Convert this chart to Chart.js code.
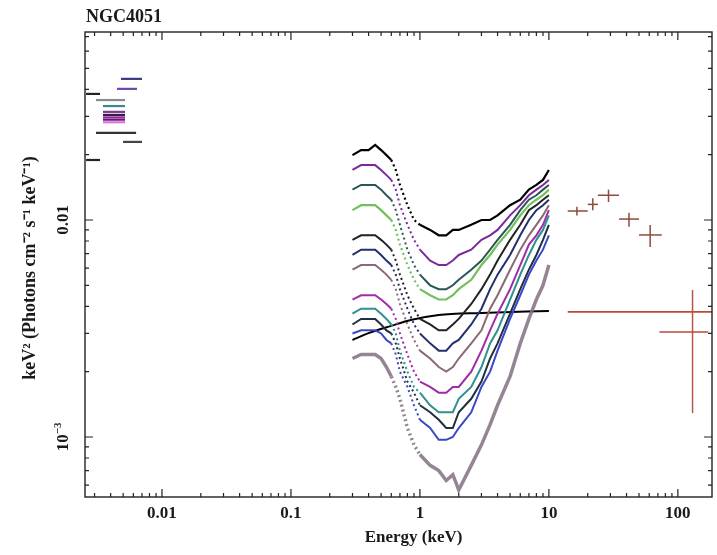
<!DOCTYPE html>
<html>
<head>
<meta charset="utf-8">
<script src="https://cdn.jsdelivr.net/npm/chart.js@4.4.0/dist/chart.umd.min.js"></script>
<style>
  html, body { margin: 0; padding: 0; background: #fff; }
  #wrap { width: 717px; height: 555px; }
</style>
</head>
<body>
<div id="wrap"><canvas id="spectrumChart" width="717" height="555"></canvas></div>
<script>
// X-ray spectra (keV, keV^2 Photons cm^-2 s^-1 keV^-1)
const energies = [0.3, 0.35, 0.4, 0.45, 0.5, 0.55, 0.6, 0.65, 0.7, 0.8, 0.9, 1.0, 1.2, 1.4, 1.6, 1.8, 2.0, 2.5, 3.0, 3.5, 4.0, 5.0, 6.0, 7.0, 8.0, 9.0, 10.0];

const spec1 = [0.0199, 0.0210, 0.0210, 0.0222, 0.0210, 0.0199, 0.0189, 0.0170, 0.0145, 0.0117, 0.0100, 0.0095, 0.0090, 0.0085, 0.0085, 0.0090, 0.0090, 0.0095, 0.0100, 0.0100, 0.0105, 0.0117, 0.0124, 0.0138, 0.0145, 0.0153, 0.0170];
const spec2 = [0.0170, 0.0179, 0.0179, 0.0179, 0.0170, 0.0161, 0.0153, 0.0138, 0.0117, 0.0095, 0.0081, 0.0073, 0.0065, 0.0062, 0.0062, 0.0065, 0.0069, 0.0073, 0.0081, 0.0085, 0.0090, 0.0105, 0.0117, 0.0130, 0.0138, 0.0145, 0.0153];
const spec3 = [0.0138, 0.0145, 0.0145, 0.0145, 0.0138, 0.0130, 0.0124, 0.0111, 0.0095, 0.0073, 0.0062, 0.0056, 0.0050, 0.0048, 0.0048, 0.0050, 0.0053, 0.0059, 0.0065, 0.0073, 0.0081, 0.0095, 0.0111, 0.0124, 0.0130, 0.0138, 0.0145];
const spec4 = [0.0111, 0.0117, 0.0117, 0.0117, 0.0111, 0.0105, 0.0100, 0.0090, 0.0077, 0.0062, 0.0053, 0.0048, 0.0045, 0.0043, 0.0043, 0.0045, 0.0048, 0.0053, 0.0062, 0.0069, 0.0077, 0.0090, 0.0105, 0.0117, 0.0124, 0.0130, 0.0138];
const spec5 = [0.0081, 0.0085, 0.0085, 0.0085, 0.0081, 0.0077, 0.0073, 0.0065, 0.0056, 0.0045, 0.0039, 0.0035, 0.0033, 0.0031, 0.0031, 0.0033, 0.0035, 0.0041, 0.0048, 0.0056, 0.0065, 0.0081, 0.0095, 0.0111, 0.0117, 0.0124, 0.0130];
const spec6 = [0.0069, 0.0073, 0.0073, 0.0073, 0.0069, 0.0065, 0.0062, 0.0056, 0.0048, 0.0039, 0.0033, 0.0030, 0.0027, 0.0025, 0.0025, 0.0027, 0.0028, 0.0033, 0.0039, 0.0048, 0.0056, 0.0069, 0.0085, 0.0100, 0.0111, 0.0117, 0.0124];
const spec7 = [0.0059, 0.0062, 0.0062, 0.0062, 0.0059, 0.0056, 0.0053, 0.0048, 0.0041, 0.0033, 0.0028, 0.0025, 0.0023, 0.0021, 0.0020, 0.0021, 0.0023, 0.0027, 0.0031, 0.0039, 0.0045, 0.0059, 0.0073, 0.0085, 0.0095, 0.0105, 0.0117];
const spec8 = [0.0043, 0.0045, 0.0045, 0.0045, 0.0043, 0.0041, 0.0039, 0.0035, 0.0030, 0.0024, 0.0020, 0.0018, 0.0017, 0.0016, 0.0016, 0.0017, 0.0017, 0.0020, 0.0025, 0.0031, 0.0037, 0.0048, 0.0062, 0.0077, 0.0085, 0.0095, 0.0111];
const spec9 = [0.0037, 0.0039, 0.0039, 0.0039, 0.0037, 0.0035, 0.0033, 0.0030, 0.0025, 0.0020, 0.0017, 0.0016, 0.0014, 0.0013, 0.0013, 0.0013, 0.0015, 0.0017, 0.0021, 0.0027, 0.0031, 0.0043, 0.0056, 0.0069, 0.0081, 0.0090, 0.0105];
const spec10 = [0.0033, 0.0035, 0.0035, 0.0035, 0.0033, 0.0031, 0.0030, 0.0027, 0.0023, 0.0018, 0.0016, 0.0014, 0.0013, 0.0012, 0.0011, 0.0011, 0.0013, 0.0015, 0.0018, 0.0023, 0.0027, 0.0037, 0.0048, 0.0059, 0.0069, 0.0081, 0.0095];
const spec11 = [0.0030, 0.0031, 0.0031, 0.0031, 0.0030, 0.0028, 0.0027, 0.0024, 0.0020, 0.0017, 0.0014, 0.0012, 0.0011, 0.00097, 0.00097, 0.0010, 0.0011, 0.0013, 0.0017, 0.0020, 0.0025, 0.0035, 0.0045, 0.0056, 0.0065, 0.0073, 0.0085];
const spec12 = [0.0023, 0.0024, 0.0024, 0.0024, 0.0023, 0.0021, 0.0019, 0.0017, 0.0015, 0.0011, 0.00092, 0.00083, 0.00074, 0.00070, 0.00063, 0.00067, 0.00057, 0.00074, 0.00092, 0.00114, 0.0014, 0.0019, 0.0027, 0.0035, 0.0043, 0.0050, 0.0062];

const spectra = [spec12, spec11, spec10, spec9, spec8, spec7, spec6, spec5, spec4, spec3, spec2, spec1];
const spectrumColors = ['rgba(130,110,128,0.85)', '#3a48c8', '#1f3040', '#2f9090', '#a32aa8', '#8a6a74', '#23306e', '#222222', '#72c05c', '#2b5656', '#7a2a9a', '#000000'];
const spectrumWidths = [3.5, 2, 2, 2, 2, 2, 2, 2, 2.2, 2, 2, 2.2];

// optical/UV monitor points: energy band and flux
const uvLow = [0.00481, 0.00448, 0.00258, 0.00308, 0.00349, 0.00349, 0.00349, 0.00349, 0.00349, 0.00349, 0.00308, 0.00499, 0.00258];
const uvHigh = [0.00700, 0.00640, 0.00331, 0.00517, 0.00517, 0.00517, 0.00517, 0.00517, 0.00517, 0.00517, 0.00630, 0.00700, 0.00331];
const uvFlux = [0.0447, 0.0402, 0.0381, 0.0357, 0.0335, 0.0315, 0.0305, 0.0297, 0.0290, 0.0282, 0.0252, 0.0229, 0.0189];
const uvColors = ['#3a3a80', '#6a4aa8', '#222222', '#8a8a8a', '#3a8a8a', '#7a3a9a', '#3a1a4a', '#9a2aa0', '#6a1a7a', '#d77ad7', '#333333', '#444444', '#222222'];

// model continuum
const modelEnergies = [0.3, 0.4, 0.6, 0.85, 1.4, 3.0, 10.0];
const modelFlux = [0.00280, 0.00301, 0.00325, 0.00346, 0.00365, 0.00373, 0.00381];

// hard X-ray band
const hardLineEnergies = [14, 195];
const hardLineFlux = [0.00377, 0.00377];
const batLow = [14, 20, 24, 35, 50, 72];
const batHigh = [20, 24, 35, 50, 75, 172];
const batCenter = [16.5, 21.9, 29, 41.8, 61, 130];
const batFlux = [0.0110, 0.0118, 0.0130, 0.0101, 0.00853, 0.00305];
const batErrLow = [0.0105, 0.0111, 0.0121, 0.0093, 0.00751, 0.00129];
const batErrHigh = [0.0115, 0.0126, 0.0138, 0.0108, 0.00948, 0.00476];

const serif = '"Liberation Serif", "Times New Roman", serif';

const datasets = [];

spectra.forEach((spec, i) => {
    datasets.push({
        label: 'spectrum ' + (spectra.length - i),
        data: energies.map((e, j) => ({ x: e, y: spec[j] })),
        borderColor: spectrumColors[i],
        borderWidth: spectrumWidths[i],
        pointRadius: 0,
        tension: 0,
        segment: {
            borderDash: ctx => (ctx.p0.parsed.x >= 0.6 && ctx.p1.parsed.x <= 1.0) ? [2, 3] : undefined
        }
    });
});

datasets.push({
    label: 'model',
    data: modelEnergies.map((e, j) => ({ x: e, y: modelFlux[j] })),
    borderColor: '#000',
    borderWidth: 2,
    pointRadius: 0,
    cubicInterpolationMode: 'monotone'
});

uvFlux.forEach((f, i) => {
    datasets.push({
        label: 'uv ' + i,
        data: [{ x: uvLow[i], y: f }, { x: uvHigh[i], y: f }],
        borderColor: uvColors[i],
        borderWidth: 2.2,
        pointRadius: 0
    });
});

datasets.push({
    label: 'hard band',
    data: hardLineEnergies.map((e, j) => ({ x: e, y: hardLineFlux[j] })),
    borderColor: '#c2463a',
    borderWidth: 1.8,
    pointRadius: 0
});

batFlux.forEach((f, i) => {
    datasets.push({
        label: 'bat h' + i,
        data: [{ x: batLow[i], y: f }, { x: batHigh[i], y: f }],
        borderColor: i === 5 ? '#c2463a' : '#8e4a3c',
        borderWidth: 1.5,
        pointRadius: 0
    });
    datasets.push({
        label: 'bat v' + i,
        data: [{ x: batCenter[i], y: batErrLow[i] }, { x: batCenter[i], y: batErrHigh[i] }],
        borderColor: i === 5 ? '#b8564a' : '#8e4a3c',
        borderWidth: 1.5,
        pointRadius: 0
    });
});

function logTicks(min, max) {
    const out = [];
    for (let n = Math.floor(Math.log10(min)); n <= Math.ceil(Math.log10(max)); n++) {
        for (let k = 1; k <= 9; k++) {
            const v = k * Math.pow(10, n);
            if (v >= min && v <= max) out.push({ value: v, major: k === 1 });
        }
    }
    return out;
}

const framePlugin = {
    id: 'frame',
    afterDraw(chart) {
        const { ctx, chartArea: a, scales: { x, y } } = chart;
        ctx.save();
        ctx.strokeStyle = '#222';
        ctx.lineWidth = 1.4;
        ctx.strokeRect(a.left, a.top, a.right - a.left, a.bottom - a.top);
        ctx.lineWidth = 1.2;
        ctx.beginPath();
        logTicks(x.min, x.max).forEach(t => {
            const px = x.getPixelForValue(t.value);
            const len = t.major ? 8 : 4;
            ctx.moveTo(px, a.bottom); ctx.lineTo(px, a.bottom - len);
            ctx.moveTo(px, a.top); ctx.lineTo(px, a.top + len);
        });
        logTicks(y.min, y.max).forEach(t => {
            const py = y.getPixelForValue(t.value);
            const len = t.major ? 8 : 4;
            ctx.moveTo(a.left, py); ctx.lineTo(a.left + len, py);
            ctx.moveTo(a.right, py); ctx.lineTo(a.right - len, py);
        });
        ctx.stroke();

        ctx.fillStyle = '#1a1a1a';
        ctx.font = 'bold 17px ' + serif;
        ctx.textAlign = 'center';
        ctx.textBaseline = 'middle';
        [0.01, 0.1, 1, 10, 100].forEach(v => {
            ctx.fillText(String(v), x.getPixelForValue(v), 514);
        });
        ctx.font = 'bold 17px ' + serif;
        ctx.fillText('Energy (keV)', (a.left + a.right) / 2 + 15, 538);

        // y labels (rotated)
        ctx.save();
        ctx.translate(64, y.getPixelForValue(0.01));
        ctx.rotate(-Math.PI / 2);
        ctx.fillText('0.01', 0, 0);
        ctx.restore();

        ctx.save();
        ctx.translate(64, y.getPixelForValue(0.001));
        ctx.rotate(-Math.PI / 2);
        ctx.font = 'bold 17px ' + serif;
        const w1 = ctx.measureText('10').width;
        ctx.font = 'bold 11px ' + serif;
        const w2 = ctx.measureText('\u22123').width;
        const x0 = -(w1 + w2) / 2;
        ctx.textAlign = 'left';
        ctx.font = 'bold 17px ' + serif;
        ctx.fillText('10', x0, 0);
        ctx.font = 'bold 11px ' + serif;
        ctx.fillText('\u22123', x0 + w1, -6);
        ctx.restore();

        ctx.save();
        ctx.translate(30, 268);
        ctx.rotate(-Math.PI / 2);
        ctx.font = 'bold 18px ' + serif;
        ctx.fillText('keV\u00B2 (Photons cm\u207B\u00B2 s\u207B\u00B9 keV\u207B\u00B9)', 0, 0);
        ctx.restore();

        ctx.textAlign = 'left';
        ctx.font = 'bold 18px ' + serif;
        ctx.fillText('NGC4051', 86, 17);
        ctx.restore();
    }
};

const chart = new Chart(document.getElementById('spectrumChart'), {
    type: 'line',
    data: { datasets: datasets },
    options: {
        responsive: false,
        animation: false,
        layout: { padding: { top: 32, right: 5, left: 0, bottom: 0 } },
        plugins: {
            legend: { display: false },
            tooltip: { enabled: false }
        },
        scales: {
            x: {
                type: 'logarithmic',
                min: 0.00253,
                max: 184,
                ticks: { display: false },
                grid: { display: false },
                border: { display: false },
                afterFit: s => { s.height = 58; }
            },
            y: {
                type: 'logarithmic',
                min: 0.000529,
                max: 0.0735,
                ticks: { display: false },
                grid: { display: false },
                border: { display: false },
                afterFit: s => { s.width = 85; }
            }
        }
    },
    plugins: [framePlugin]
});
</script>
</body>
</html>
